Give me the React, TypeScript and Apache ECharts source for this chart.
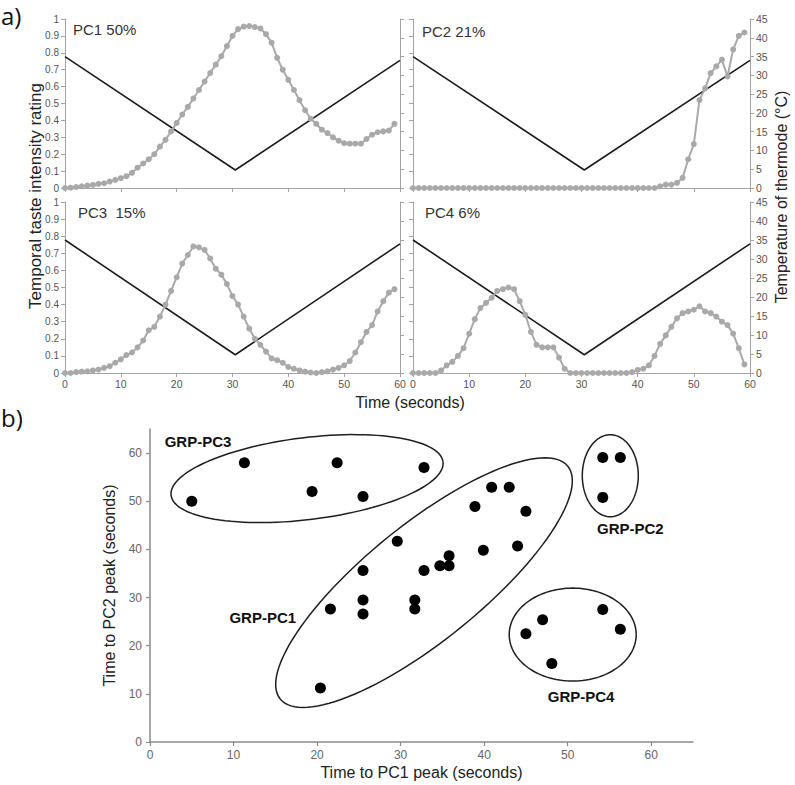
import React, { useEffect, useRef } from "react";
import * as echarts from "echarts";

// ---------- a) temporal profiles ----------
const seconds = [
  0, 1, 2, 3, 4, 5, 6, 7, 8, 9, 10, 11, 12, 13, 14, 15, 16, 17, 18, 19,
  20, 21, 22, 23, 24, 25, 26, 27, 28, 29, 30, 31, 32, 33, 34, 35, 36, 37, 38, 39,
  40, 41, 42, 43, 44, 45, 46, 47, 48, 49, 50, 51, 52, 53, 54, 55, 56, 57, 58, 59,
];
const pc1Rating = [
  0, 0.002, 0.006, 0.01, 0.014, 0.018, 0.024, 0.028, 0.038, 0.048,
  0.058, 0.07, 0.09, 0.12, 0.145, 0.17, 0.2, 0.245, 0.285, 0.335,
  0.385, 0.435, 0.48, 0.53, 0.58, 0.63, 0.68, 0.73, 0.78, 0.84,
  0.9, 0.94, 0.955, 0.958, 0.952, 0.944, 0.91, 0.86, 0.77, 0.7,
  0.64, 0.58, 0.52, 0.46, 0.41, 0.38, 0.345, 0.325, 0.3, 0.28,
  0.265, 0.262, 0.262, 0.262, 0.29, 0.315, 0.33, 0.335, 0.34, 0.38,
];
const pc2Rating = [
  0, 0, 0, 0, 0, 0, 0, 0, 0, 0,
  0, 0, 0, 0, 0, 0, 0, 0, 0, 0,
  0, 0, 0, 0, 0, 0, 0, 0, 0, 0,
  0, 0, 0, 0, 0, 0, 0, 0, 0, 0,
  0, 0, 0, 0, 0.01, 0.02, 0.02, 0.03, 0.06, 0.17,
  0.26, 0.52, 0.59, 0.68, 0.72, 0.76, 0.66, 0.82, 0.9, 0.92,
];
const pc3Rating = [
  0, 0, 0.005, 0.008, 0.01, 0.015, 0.02, 0.03, 0.04, 0.06,
  0.08, 0.105, 0.12, 0.15, 0.19, 0.25, 0.27, 0.33, 0.4, 0.48,
  0.56, 0.64, 0.69, 0.74, 0.735, 0.72, 0.67, 0.61, 0.575, 0.52,
  0.45, 0.4, 0.33, 0.26, 0.2, 0.165, 0.125, 0.085, 0.075, 0.06,
  0.035, 0.025, 0.015, 0.008, 0.003, 0, 0.005, 0.01, 0.02, 0.03,
  0.045, 0.07, 0.12, 0.18, 0.24, 0.28, 0.36, 0.42, 0.47, 0.49,
];
const pc4Rating = [
  0, 0, 0, 0, 0, 0.015, 0.045, 0.065, 0.1, 0.145,
  0.23, 0.315, 0.38, 0.41, 0.44, 0.48, 0.49, 0.5, 0.49, 0.42,
  0.34, 0.24, 0.165, 0.15, 0.15, 0.15, 0.09, 0.025, 0, 0,
  0, 0, 0, 0, 0, 0, 0, 0, 0, 0.005,
  0.018, 0.025, 0.045, 0.1, 0.17, 0.22, 0.27, 0.32, 0.35, 0.36,
  0.37, 0.39, 0.36, 0.35, 0.33, 0.3, 0.28, 0.23, 0.145, 0.05,
];
const thermodeTime = [0, 30.5, 60];
const thermodeTemp = [35, 4.8, 34];
const panelLabels = ["PC1 50%", "PC2 21%", "PC3  15%", "PC4 6%"];
const timeTicks = [0, 10, 20, 30, 40, 50, 60];
const ratingTicks = [0, 0.1, 0.2, 0.3, 0.4, 0.5, 0.6, 0.7, 0.8, 0.9, 1];
const tempTicks = [0, 5, 10, 15, 20, 25, 30, 35, 40, 45];

// ---------- b) time to peak scatter ----------
const pc1Peak = [
  5, 11.3, 19.4, 22.4, 25.5, 32.8,
  29.6, 25.5, 32.8, 34.7, 35.8, 35.8, 40.9, 43, 38.9, 45, 39.9, 44, 21.6, 25.5, 25.5, 31.7, 31.7, 20.4,
  54.2, 56.3, 54.2,
  54.2, 56.3, 47, 45, 48.1,
];
const pc2Peak = [
  50, 58, 52, 58, 51, 57,
  41.7, 35.6, 35.6, 36.6, 36.6, 38.7, 52.9, 52.9, 48.9, 47.9, 39.8, 40.7, 27.6, 29.5, 26.6, 29.5, 27.6, 11.2,
  59.1, 59.1, 50.8,
  27.5, 23.4, 25.4, 22.5, 16.3,
];
const peakTicks = [0, 10, 20, 30, 40, 50, 60];
const groupNames = ["GRP-PC3", "GRP-PC1", "GRP-PC2", "GRP-PC4"];
const groupCenterX = [18.8, 32.8, 55.1, 50.6];
const groupCenterY = [54.7, 33.1, 55.3, 22.3];
const groupLabelX = [5.75, 13.5, 57.5, 51.6];
const groupLabelY = [62.5, 25.9, 44.3, 9.5];

// outline geometry (pixels / degrees)
const groupOutline = [
  { rx: 137, ry: 41, tilt: 7 },
  { rx: 185, ry: 58, tilt: 39 },
  { rx: 28, ry: 41, tilt: 0 },
  { rx: 63.5, ry: 46.5, tilt: 0 },
];

const FONT = '"Liberation Sans", Arial, sans-serif';
const AXIS_GRAY = "#a3a3a3";

const panelGrids = [
  { left: 65, top: 19, width: 335, height: 169 },
  { left: 413, top: 19, width: 337, height: 169 },
  { left: 65, top: 202, width: 335, height: 171 },
  { left: 413, top: 202, width: 337, height: 171 },
];
const scatterGrid = { left: 150, top: 429, width: 543, height: 313 };

function buildOption() {
  const ratings = [pc1Rating, pc2Rating, pc3Rating, pc4Rating];
  const grid: any[] = panelGrids.map((g) => ({ ...g, containLabel: false }));
  grid.push({ ...scatterGrid, containLabel: false });

  const xAxis: any[] = panelGrids.map((_, i) => ({
    type: "value",
    gridIndex: i,
    min: 0,
    max: 60,
    interval: 10,
    axisLine: { show: true, onZero: false, lineStyle: { color: AXIS_GRAY, width: 1 } },
    axisTick: { show: true, length: 4, customValues: timeTicks, lineStyle: { color: AXIS_GRAY } },
    axisLabel: {
      show: i >= 2,
      customValues: timeTicks,
      fontSize: 10.5,
      color: "#555",
      margin: 5,
      fontFamily: FONT,
    },
    splitLine: { show: false },
  }));
  xAxis.push({
    type: "value",
    gridIndex: 4,
    min: 0,
    max: 65,
    interval: 10,
    axisLine: { show: true, onZero: false, lineStyle: { color: "#8a8a8a", width: 1.5 } },
    axisTick: { show: true, length: 4, customValues: peakTicks, lineStyle: { color: "#8a8a8a", width: 1.2 } },
    axisLabel: { customValues: peakTicks, fontSize: 12, color: "#666", margin: 7, fontFamily: FONT },
    splitLine: { show: false },
    name: "Time to PC1 peak (seconds)",
    nameLocation: "middle",
    nameGap: 22,
    nameTextStyle: { fontSize: 16, color: "#222", fontFamily: FONT },
  });

  const yAxis: any[] = [];
  panelGrids.forEach((_, i) => {
    yAxis.push({
      type: "value",
      gridIndex: i,
      position: "left",
      min: 0,
      max: 1,
      interval: 0.1,
      axisLine: { show: true, onZero: false, lineStyle: { color: AXIS_GRAY, width: 1 } },
      axisTick: { show: true, length: 4, customValues: ratingTicks, lineStyle: { color: AXIS_GRAY } },
      axisLabel: {
        show: i % 2 === 0,
        customValues: ratingTicks,
        fontSize: 10,
        color: "#555",
        margin: 6,
        fontFamily: FONT,
        formatter: (v: number) => String(Math.round(v * 10) / 10),
      },
      splitLine: { show: false },
    });
    yAxis.push({
      type: "value",
      gridIndex: i,
      position: "right",
      min: 0,
      max: 45,
      interval: 5,
      axisLine: { show: true, onZero: false, lineStyle: { color: AXIS_GRAY, width: 1 } },
      axisTick: { show: true, length: 4, customValues: tempTicks, lineStyle: { color: AXIS_GRAY } },
      axisLabel: {
        show: i % 2 === 1,
        customValues: tempTicks,
        fontSize: 10.5,
        color: "#555",
        margin: 6,
        fontFamily: FONT,
      },
      splitLine: { show: false },
    });
  });
  yAxis.push({
    type: "value",
    gridIndex: 4,
    min: 0,
    max: 65,
    interval: 10,
    axisLine: { show: true, onZero: false, lineStyle: { color: "#8a8a8a", width: 1.5 } },
    axisTick: { show: true, length: 4, customValues: peakTicks, lineStyle: { color: "#8a8a8a", width: 1.2 } },
    axisLabel: { customValues: peakTicks, fontSize: 12, color: "#666", margin: 8, fontFamily: FONT },
    splitLine: { show: false },
    name: "Time to PC2 peak (seconds)",
    nameLocation: "middle",
    nameGap: 32,
    nameTextStyle: { fontSize: 16, color: "#222", fontFamily: FONT },
  });

  const series: any[] = [];
  panelGrids.forEach((_, i) => {
    series.push({
      type: "line",
      xAxisIndex: i,
      yAxisIndex: 2 * i + 1,
      data: thermodeTime.map((t, k) => [t, thermodeTemp[k]]),
      symbol: "none",
      lineStyle: { color: "#1c1c1c", width: 1.6, join: "round" },
      z: 2,
    });
    series.push({
      type: "line",
      xAxisIndex: i,
      yAxisIndex: 2 * i,
      data: seconds.map((t, k) => [t, ratings[i][k]]),
      symbol: "circle",
      symbolSize: 6,
      itemStyle: { color: "#a9a9a9" },
      lineStyle: { color: "#a9a9a9", width: 2 },
      z: 3,
    });
  });

  series.push({
    type: "custom",
    xAxisIndex: 4,
    yAxisIndex: 8,
    clip: false,
    data: groupCenterX.map((x, k) => [x, groupCenterY[k]]),
    renderItem: (params: any, api: any) => {
      const k = params.dataIndex;
      const c = api.coord([api.value(0), api.value(1)]);
      const o = groupOutline[k];
      const phi = (o.tilt * Math.PI) / 180;
      const pts: number[][] = [];
      for (let j = 0; j <= 120; j++) {
        const th = (j / 120) * Math.PI * 2;
        const lx = o.rx * Math.cos(th);
        const ly = o.ry * Math.sin(th);
        pts.push([
          c[0] + lx * Math.cos(phi) + ly * Math.sin(phi),
          c[1] - lx * Math.sin(phi) + ly * Math.cos(phi),
        ]);
      }
      const lp = api.coord([groupLabelX[k], groupLabelY[k]]);
      return {
        type: "group",
        children: [
          {
            type: "polyline",
            shape: { points: pts },
            style: { fill: "none", stroke: "#1e1e1e", lineWidth: 1.5 },
          },
          {
            type: "text",
            x: lp[0],
            y: lp[1],
            style: {
              text: groupNames[k],
              fill: "#111",
              fontSize: 15,
              fontWeight: "bold",
              fontFamily: FONT,
              align: "center",
              verticalAlign: "middle",
            },
          },
        ],
      };
    },
    z: 2,
  });

  series.push({
    type: "scatter",
    xAxisIndex: 4,
    yAxisIndex: 8,
    data: pc1Peak.map((x, k) => [x, pc2Peak[k]]),
    symbolSize: 11,
    itemStyle: { color: "#000", opacity: 1 },
    z: 3,
  });

  const labelPos = [
    [73, 29],
    [422, 31],
    [78, 212],
    [425, 212],
  ];
  const graphic: any[] = [
    {
      type: "text",
      x: 1,
      y: 3,
      style: {
        text: "a)",
        fontSize: 24,
        fontFamily: '"Open Sans", sans-serif',
        fill: "#111",
        verticalAlign: "top",
      },
    },
    {
      type: "text",
      x: 1,
      y: 405,
      style: {
        text: "b)",
        fontSize: 24,
        fontFamily: '"Open Sans", sans-serif',
        fill: "#111",
        verticalAlign: "top",
      },
    },
    {
      type: "text",
      x: 35,
      y: 196,
      rotation: Math.PI / 2,
      style: {
        text: "Temporal taste intensity rating",
        fontSize: 17,
        fontFamily: FONT,
        fill: "#222",
        align: "center",
        verticalAlign: "middle",
      },
    },
    {
      type: "text",
      x: 781,
      y: 197,
      rotation: Math.PI / 2,
      style: {
        text: "Temperature of thermode (°C)",
        fontSize: 16,
        fontFamily: FONT,
        fill: "#222",
        align: "center",
        verticalAlign: "middle",
      },
    },
    {
      type: "text",
      x: 410,
      y: 402,
      style: {
        text: "Time (seconds)",
        fontSize: 16,
        fontFamily: FONT,
        fill: "#222",
        align: "center",
        verticalAlign: "middle",
      },
    },
  ];
  panelLabels.forEach((t, i) => {
    graphic.push({
      type: "text",
      x: labelPos[i][0],
      y: labelPos[i][1],
      style: {
        text: t,
        fontSize: 15,
        fontFamily: FONT,
        fill: "#333",
        align: "left",
        verticalAlign: "middle",
        whiteSpace: "pre",
      },
    });
  });

  return {
    animation: false,
    backgroundColor: "#fff",
    textStyle: { fontFamily: FONT },
    grid,
    xAxis,
    yAxis,
    series,
    graphic,
  };
}

export default function App() {
  const ref = useRef<HTMLDivElement>(null);
  useEffect(() => {
    if (!ref.current) return;
    const chart = echarts.init(ref.current, null, { renderer: "svg" });
    chart.setOption(buildOption() as any);
    return () => chart.dispose();
  }, []);
  return (
    <div
      ref={ref}
      style={{ position: "absolute", left: 0, top: 0, width: 795, height: 785, background: "#fff" }}
    />
  );
}
